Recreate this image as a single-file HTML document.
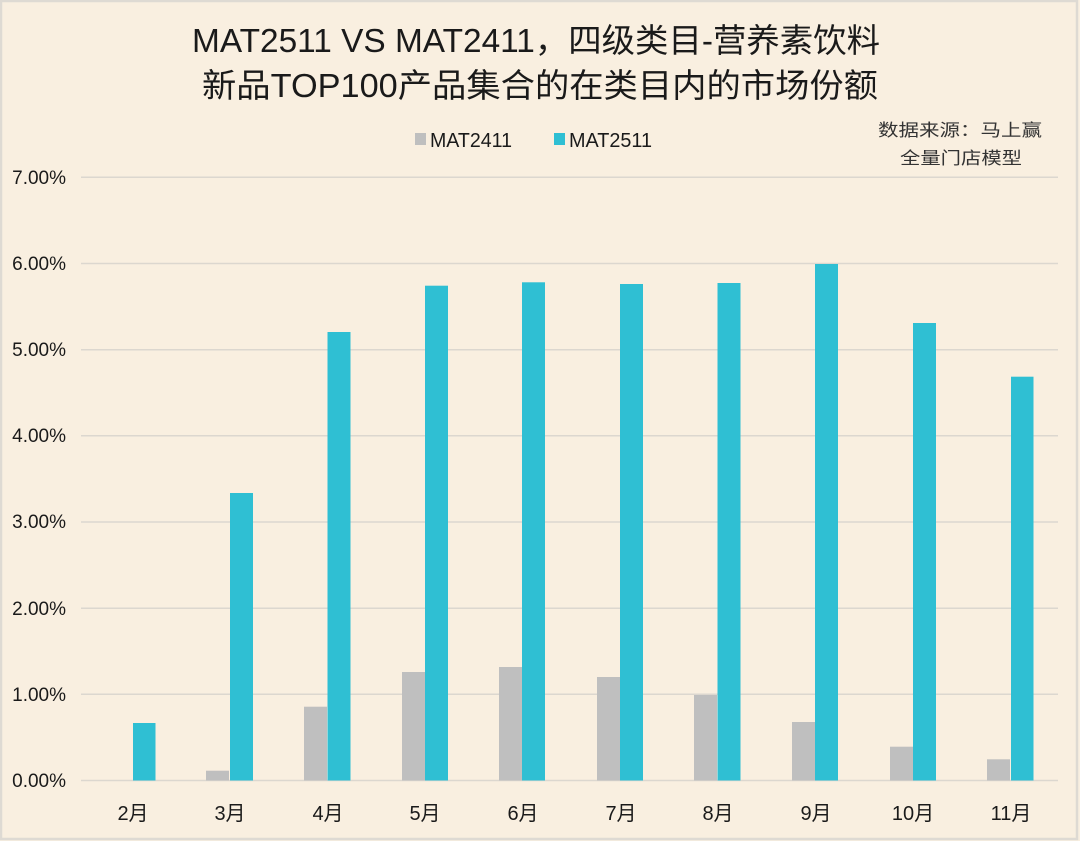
<!DOCTYPE html>
<html><head><meta charset="utf-8"><style>
html,body{margin:0;padding:0;background:#f9efe0;}
svg{display:block;}
text{font-family:"Liberation Sans","Noto Sans CJK SC",sans-serif;fill:#1a1a1a;}
</style></head><body>
<svg width="1080" height="841" viewBox="0 0 1080 841" xmlns="http://www.w3.org/2000/svg">
<rect x="0" y="0" width="1080" height="841" fill="#f9efe0"/>
<rect x="1" y="1" width="1076" height="838" fill="none" stroke="#dedad3" stroke-width="2.5"/>
<!-- title -->
<text x="192" y="52" font-size="33" textLength="688" lengthAdjust="spacingAndGlyphs">MAT2511 VS MAT2411，四级类目-营养素饮料</text>
<text x="202" y="97" font-size="33" textLength="676" lengthAdjust="spacingAndGlyphs">新品TOP100产品集合的在类目内的市场份额</text>
<!-- legend -->
<rect x="415" y="133" width="11" height="12" fill="#bfbfbf"/>
<text x="430" y="147" font-size="20" textLength="82" lengthAdjust="spacingAndGlyphs">MAT2411</text>
<rect x="554" y="133" width="11" height="12" fill="#2fbfd3"/>
<text x="569" y="147" font-size="20" textLength="83" lengthAdjust="spacingAndGlyphs">MAT2511</text>
<!-- source -->
<text x="878" y="136" font-size="17" fill="#333" textLength="164" lengthAdjust="spacingAndGlyphs" style="fill:#333">数据来源：马上赢</text>
<text x="900" y="164" font-size="17" textLength="122" lengthAdjust="spacingAndGlyphs" style="fill:#333">全量门店模型</text>
<!-- gridlines -->
<g stroke="#dcd7cf" stroke-width="1.5">
<line x1="81" x2="1058" y1="177.3" y2="177.3"/>
<line x1="81" x2="1058" y1="263.5" y2="263.5"/>
<line x1="81" x2="1058" y1="349.7" y2="349.7"/>
<line x1="81" x2="1058" y1="435.8" y2="435.8"/>
<line x1="81" x2="1058" y1="522" y2="522"/>
<line x1="81" x2="1058" y1="608.2" y2="608.2"/>
<line x1="81" x2="1058" y1="694.3" y2="694.3"/>
<line x1="81" x2="1058" y1="780.5" y2="780.5"/>
</g>
<!-- y labels -->
<g font-size="19" text-anchor="end">
<text x="66" y="184">7.00%</text>
<text x="66" y="270">6.00%</text>
<text x="66" y="356">5.00%</text>
<text x="66" y="442">4.00%</text>
<text x="66" y="528">3.00%</text>
<text x="66" y="615">2.00%</text>
<text x="66" y="701">1.00%</text>
<text x="66" y="787">0.00%</text>
</g>
<!-- bars: center c, gray c-23..c, teal c..c+23 -->
<g fill="#bfbfbf">
<rect x="206" y="770.7" width="23" height="9.8"/>
<rect x="304" y="706.7" width="23" height="73.8"/>
<rect x="402" y="672" width="23" height="108.5"/>
<rect x="499" y="667" width="23" height="113.5"/>
<rect x="597" y="677" width="23" height="103.5"/>
<rect x="694" y="695" width="23" height="85.5"/>
<rect x="792" y="722" width="23" height="58.5"/>
<rect x="890" y="746.7" width="23" height="33.8"/>
<rect x="987" y="759.3" width="23" height="21.2"/>
</g>
<g fill="#2fbfd3">
<rect x="133" y="723" width="22.5" height="57.5"/>
<rect x="230" y="493" width="23" height="287.5"/>
<rect x="327.5" y="332" width="23" height="448.5"/>
<rect x="425" y="285.7" width="23" height="494.8"/>
<rect x="522" y="282.3" width="23" height="498.2"/>
<rect x="620" y="284" width="23" height="496.5"/>
<rect x="717.5" y="283" width="23" height="497.5"/>
<rect x="815" y="264" width="23" height="516.5"/>
<rect x="913" y="323" width="23" height="457.5"/>
<rect x="1011" y="376.7" width="22.5" height="403.8"/>
</g>
<!-- x labels -->
<g font-size="20" text-anchor="middle">
<text x="133" y="820">2月</text>
<text x="230" y="820">3月</text>
<text x="328" y="820">4月</text>
<text x="425" y="820">5月</text>
<text x="523" y="820">6月</text>
<text x="621" y="820">7月</text>
<text x="718" y="820">8月</text>
<text x="816" y="820">9月</text>
<text x="913" y="820">10月</text>
<text x="1011" y="820">11月</text>
</g>
</svg>
</body></html>
